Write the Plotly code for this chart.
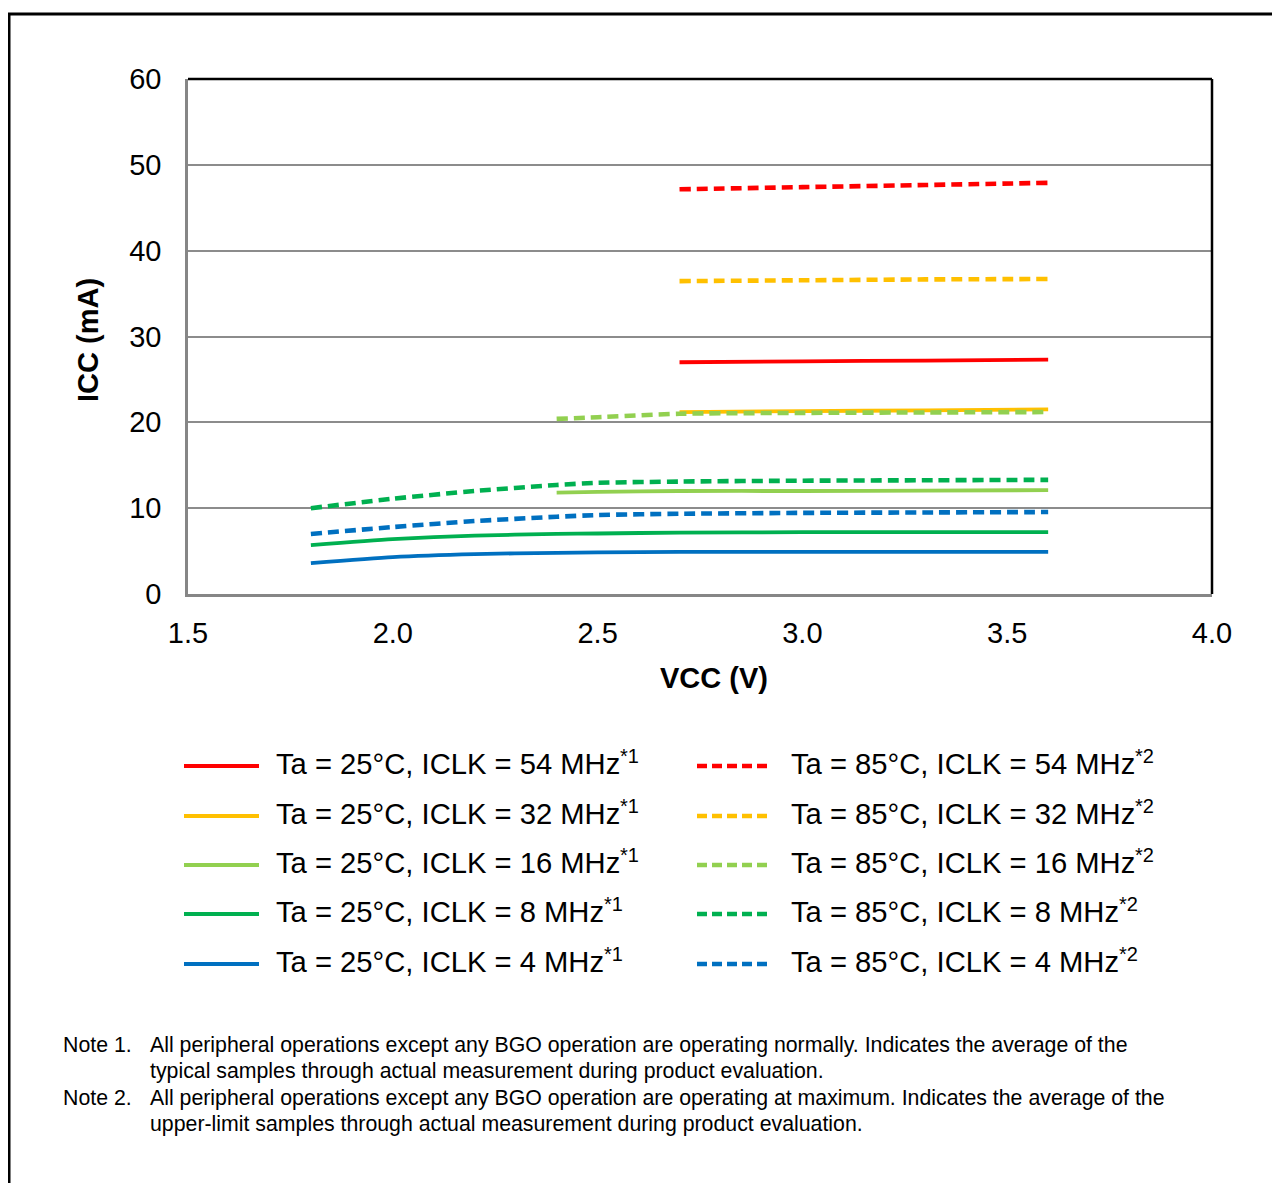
import plotly.graph_objects as go

# ---------------- data ----------------
vcc_full = [1.8, 2.0, 2.2, 2.4, 2.5, 2.7, 3.0, 3.3, 3.6]
vcc_mid = [2.4, 2.5, 2.7, 3.0, 3.3, 3.6]
vcc_high = [2.7, 3.0, 3.3, 3.6]

# Ta = 25 C (typical)
icc25_54 = [27.0, 27.1, 27.2, 27.3]
icc25_32 = [21.2, 21.3, 21.4, 21.5]
icc25_16 = [11.8, 11.9, 12.0, 12.0, 12.05, 12.1]
icc25_8 = [5.7, 6.4, 6.8, 7.0, 7.05, 7.15, 7.2, 7.2, 7.2]
icc25_4 = [3.6, 4.3, 4.65, 4.8, 4.85, 4.9, 4.9, 4.9, 4.9]

# Ta = 85 C (upper limit)
icc85_54 = [47.15, 47.4, 47.65, 47.9]
icc85_32 = [36.45, 36.55, 36.65, 36.7]
icc85_16 = [20.4, 20.6, 21.0, 21.1, 21.15, 21.2]
icc85_8 = [10.0, 11.1, 12.0, 12.7, 12.95, 13.1, 13.2, 13.25, 13.3]
icc85_4 = [7.0, 7.8, 8.5, 9.0, 9.2, 9.35, 9.45, 9.5, 9.55]

x_ticks = [1.5, 2.0, 2.5, 3.0, 3.5, 4.0]
y_ticks = [0, 10, 20, 30, 40, 50, 60]

labels25 = ["Ta = 25°C, ICLK = 54 MHz", "Ta = 25°C, ICLK = 32 MHz", "Ta = 25°C, ICLK = 16 MHz",
            "Ta = 25°C, ICLK = 8 MHz", "Ta = 25°C, ICLK = 4 MHz"]
labels85 = ["Ta = 85°C, ICLK = 54 MHz", "Ta = 85°C, ICLK = 32 MHz", "Ta = 85°C, ICLK = 16 MHz",
            "Ta = 85°C, ICLK = 8 MHz", "Ta = 85°C, ICLK = 4 MHz"]
note_marks = ["*1", "*2"]
colors = ["#FF0000", "#FFC000", "#92D050", "#00B050", "#0070C0"]

notes = [
    ("Note 1.", "All peripheral operations except any BGO operation are operating normally. Indicates the average of the",
     "typical samples through actual measurement during product evaluation."),
    ("Note 2.", "All peripheral operations except any BGO operation are operating at maximum. Indicates the average of the",
     "upper-limit samples through actual measurement during product evaluation."),
]

# ---------------- figure ----------------
OFF = 8  # page body margin in the browser
W, H = 1280 - OFF, 1183 - OFF
L, T = 188 - OFF, 79 - OFF
PW, PH = 1024, 515
R, B = W - L - PW, H - T - PH
FONT = "Arial, Liberation Sans, sans-serif"
DASH = "11px,6px"


def px(xp):
    return (xp - OFF - L) / PW


def py(yp):
    return (T + PH - (yp - OFF)) / PH


series25 = [(vcc_high, icc25_54), (vcc_high, icc25_32), (vcc_mid, icc25_16), (vcc_full, icc25_8), (vcc_full, icc25_4)]
series85 = [(vcc_high, icc85_54), (vcc_high, icc85_32), (vcc_mid, icc85_16), (vcc_full, icc85_8), (vcc_full, icc85_4)]

fig = go.Figure()
for (xs, ys), lab, c in zip(series25, labels25, colors):
    fig.add_trace(go.Scatter(x=xs, y=ys, mode="lines", name=lab,
                             line=dict(color=c, width=3.8, shape="spline", smoothing=0.6),
                             showlegend=False))
for (xs, ys), lab, c in zip(series85, labels85, colors):
    fig.add_trace(go.Scatter(x=xs, y=ys, mode="lines", name=lab,
                             line=dict(color=c, width=4.6, dash=DASH, shape="spline", smoothing=0.6),
                             showlegend=False))

shapes = []
annotations = []

# plot-area border (top/right black)
shapes.append(dict(type="line", xref="paper", yref="paper", x0=0, x1=1, y0=1, y1=1, line=dict(color="black", width=2.5)))
shapes.append(dict(type="line", xref="paper", yref="paper", x0=1, x1=1, y0=0, y1=1, line=dict(color="black", width=2.5)))

# outer frame
shapes.append(dict(type="rect", xref="paper", yref="paper", x0=px(9), x1=px(1300), y0=py(1220), y1=py(14),
                   line=dict(color="black", width=3), fillcolor="rgba(0,0,0,0)", layer="below"))

# manual legend (two columns)
row_y = [766, 816, 865, 914, 964]
LEG_FONT = dict(size=29.2, color="black", family=FONT)
SUP_FONT = dict(size=20, color="black", family=FONT)
columns = [(labels25, note_marks[0], 184, 259, 274, None), (labels85, note_marks[1], 697, 770, 789, "10px,5px")]
for labels, mark, lx0, lx1, tx, dash in columns:
    for i in range(5):
        yy = py(row_y[i])
        ln = dict(color=colors[i], width=3.8 if dash is None else 4.6)
        if dash:
            ln["dash"] = dash
        shapes.append(dict(type="line", xref="paper", yref="paper", x0=px(lx0), x1=px(lx1), y0=yy, y1=yy, line=ln))
        annotations.append(dict(xref="paper", yref="paper", x=px(tx), y=py(row_y[i] - 2), xanchor="left",
                                yanchor="middle", text=labels[i], showarrow=False, font=LEG_FONT))
        # superscript note mark right after the label text
        annotations.append(dict(xref="paper", yref="paper", x=px(tx), y=py(row_y[i] - 10), xanchor="left",
                                yanchor="middle", text=mark, showarrow=False, font=SUP_FONT,
                                xshift=(344 if len(labels[i]) == 24 else 328)))

# axis titles
annotations.append(dict(xref="paper", yref="paper", x=px(714), y=py(678), xanchor="center", yanchor="middle",
                        text="<b>VCC (V)</b>", showarrow=False, font=dict(size=29, color="black", family=FONT)))
annotations.append(dict(xref="paper", yref="paper", x=px(88), y=py(340), xanchor="center", yanchor="middle",
                        text="<b>ICC (mA)</b>", textangle=-90, showarrow=False,
                        font=dict(size=29, color="black", family=FONT)))

# notes
note_y = [1045, 1071, 1098, 1124]
NOTE_FONT = dict(size=21.3, color="black", family=FONT)
k = 0
for head, l1, l2 in notes:
    annotations.append(dict(xref="paper", yref="paper", x=px(61), y=py(note_y[k]), xanchor="left", yanchor="middle",
                            text=head, showarrow=False, font=NOTE_FONT))
    annotations.append(dict(xref="paper", yref="paper", x=px(148), y=py(note_y[k]), xanchor="left", yanchor="middle",
                            text=l1, showarrow=False, font=NOTE_FONT))
    annotations.append(dict(xref="paper", yref="paper", x=px(148), y=py(note_y[k + 1]), xanchor="left",
                            yanchor="middle", text=l2, showarrow=False, font=NOTE_FONT))
    k += 2

fig.update_layout(
    width=W, height=H,
    margin=dict(l=L, r=R, t=T, b=B, pad=0),
    paper_bgcolor="white", plot_bgcolor="white",
    font=dict(family=FONT, size=29, color="black"),
    shapes=shapes, annotations=annotations,
    xaxis=dict(range=[1.5, 4.0], tickvals=x_ticks, ticktext=[f"{v:.1f}" for v in x_ticks],
               showgrid=False, zeroline=False, showline=True, linecolor="#868686", linewidth=2.5,
               ticks="outside", ticklen=0, ticklabelstandoff=11, tickfont=dict(size=29)),
    yaxis=dict(range=[0, 60], tickvals=y_ticks, showgrid=True, gridcolor="#8C8C8C", gridwidth=2,
               zeroline=False, showline=True, linecolor="#868686", linewidth=2.5,
               ticks="outside", ticklen=0, ticklabelstandoff=18, tickfont=dict(size=29)),
)

fig.write_html("out.html")
